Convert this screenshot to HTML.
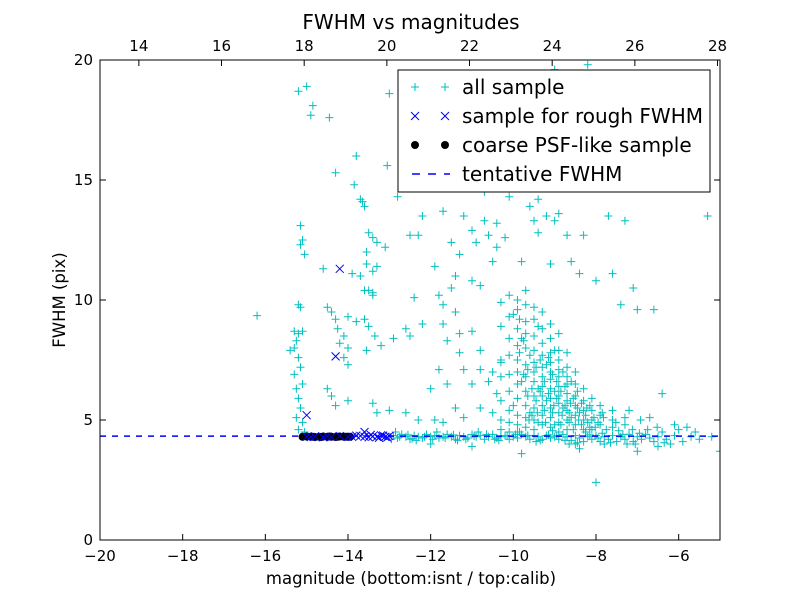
<!DOCTYPE html>
<html><head><meta charset="utf-8"><style>
body{margin:0;background:#fff;}
svg text{font-family:"DejaVu Sans","Liberation Sans",sans-serif;}
</style></head><body>
<svg id="chart" width="800" height="600" xmlns="http://www.w3.org/2000/svg"></svg>
<script>
const xTicks=[-20,-18,-16,-14,-12,-10,-8,-6];
const topTicks=[14,16,18,20,22,24,26,28];
const yTicks=[0,5,10,15,20];
const tentativeFwhm=4.33;
const topOffset=33.06;
const roughMag=[-14.2,-14.3,-15.0,-13.6,-15.0,-14.8,-14.6,-14.4,-14.2,-14.0,-13.8,-13.6,-13.5,-13.4,-13.3,-13.2,-13.1,-13.0,-14.9,-14.5,-13.7,-13.9,-13.45,-13.25,-13.15,-13.05];
const roughFwhm=[11.3,7.65,5.2,4.5,4.3,4.32,4.28,4.3,4.33,4.3,4.35,4.3,4.28,4.32,4.3,4.36,4.3,4.33,4.29,4.31,4.34,4.3,4.38,4.26,4.35,4.27];
const psfMag=[-15.1,-15.0,-14.9,-14.8,-14.7,-14.6,-14.5,-14.4,-14.3,-14.2,-14.1,-14.0,-13.95,-14.85,-14.65,-14.45,-14.25,-14.05];
const psfFwhm=[4.3,4.31,4.3,4.29,4.3,4.31,4.3,4.3,4.29,4.31,4.3,4.3,4.3,4.3,4.29,4.31,4.3,4.3];
const allPts=[[-15.2,18.7],[-15.0,18.9],[-14.85,18.1],[-14.9,17.7],[-14.45,17.6],[-15.15,13.1],[-15.1,12.5],[-15.15,12.3],[-15.05,11.9],[-15.2,9.8],[-15.15,9.7],[-15.3,8.7],[-15.2,8.6],[-15.25,8.3],[-15.1,8.7],[-15.3,8.0],[-15.2,7.6],[-15.15,7.2],[-15.3,6.9],[-15.1,6.5],[-15.25,6.3],[-15.2,5.9],[-15.15,5.5],[-15.25,5.1],[-15.1,4.9],[-15.2,4.6],[-15.05,4.5],[-15.4,7.9],[-16.2,9.35],[-14.6,11.3],
[-14.3,15.3],[-13.8,16.0],[-13.85,14.8],[-13.7,14.2],[-13.6,13.9],[-13.65,14.1],[-13.5,12.8],[-13.4,12.6],[-13.55,12.0],[-13.3,12.4],[-13.55,11.5],[-13.3,11.4],[-13.4,11.2],[-13.7,11.0],[-13.9,11.1],[-13.5,10.4],[-13.4,10.2],[-13.6,10.4],[-13.4,10.3],[-14.0,9.3],[-14.5,9.7],[-14.4,9.5],[-14.3,9.2],[-14.25,8.8],[-14.2,8.2],[-14.0,8.0],[-13.6,9.2],[-13.5,8.9],[-13.35,8.5],[-13.8,9.1],[-14.1,8.5],[-13.55,7.9],[-13.2,8.1],[-12.9,8.4],[-12.6,8.8],[-12.5,8.5],[-12.2,9.0],[-14.1,7.6],[-14.0,7.3],[-14.5,6.3],[-14.4,6.0],[-14.3,5.6],[-14.0,5.8],[-13.4,5.7],[-13.3,5.3],[-13.0,5.4],[-12.6,5.3],[-12.3,5.0],[-13.1,12.2],[-13.0,18.6],[-13.05,15.6],[-12.8,14.3],[-12.4,10.1],[-12.5,12.7],[-12.3,12.7],
[-12.2,13.5],[-11.7,13.7],[-11.2,13.5],[-11.5,12.4],[-11.0,12.9],[-10.9,12.4],[-10.6,12.7],[-10.4,12.2],[-11.3,11.9],[-11.9,11.4],[-11.4,11.0],[-11.8,10.2],[-11.5,10.5],[-11.0,10.8],[-10.8,10.6],[-10.5,11.6],[-11.7,9.8],[-11.4,9.5],[-11.7,9.0],[-11.3,8.6],[-11.0,8.7],[-11.6,8.3],[-11.3,7.8],[-10.8,7.9],[-10.3,7.5],[-11.8,7.1],[-11.2,7.1],[-10.8,7.1],[-10.5,7.0],[-12.0,6.3],[-11.6,6.5],[-11.0,6.5],[-10.6,6.6],[-11.4,5.5],[-11.9,5.0],[-11.7,4.9],[-11.2,5.1],[-10.8,5.5],[-10.5,5.3],[-10.4,6.1],[-10.7,13.3],[-10.4,13.2],[-10.1,14.3],[-10.7,14.5],[-9.6,13.9],[-9.4,14.2],[-9.5,13.3],[-9.2,13.5],[-9.0,13.3],[-8.9,13.6],[-8.7,12.7],[-9.4,12.8],[-10.2,12.6],[-9.8,11.6],[-9.1,11.5],[-8.6,11.6],[-8.3,12.7],[-7.7,13.5],[-7.3,13.3],[-5.3,13.5],[-10.2,14.8],[-8.2,19.8],[-9.0,19.6],[-12.2,19.4],
[-10.3,9.9],[-10.3,8.9],[-10.3,7.4],[-10.3,6.8],[-10.3,5.8],[-10.3,5.0],[-10.3,4.6],
[-10.1,10.2],[-10.1,9.3],[-10.1,8.4],[-10.1,7.7],[-10.1,6.9],[-10.1,6.2],[-10.1,5.4],[-10.1,4.9],[-10.1,4.5],
[-9.9,10.0],[-9.9,9.6],[-9.9,8.8],[-9.9,8.1],[-9.9,7.5],[-9.9,7.0],[-9.9,6.5],[-9.9,5.9],[-9.9,5.2],[-9.9,4.8],[-9.9,4.5],
[-9.7,10.4],[-9.7,9.8],[-9.7,9.1],[-9.7,8.6],[-9.7,8.0],[-9.7,7.3],[-9.7,6.8],[-9.7,6.2],[-9.7,5.6],[-9.7,5.1],[-9.7,4.7],
[-9.5,9.7],[-9.5,9.2],[-9.5,8.5],[-9.5,7.9],[-9.5,7.4],[-9.5,7.0],[-9.5,6.6],[-9.5,6.0],[-9.5,5.5],[-9.5,5.0],[-9.5,4.6],
[-9.3,9.5],[-9.3,8.8],[-9.3,8.2],[-9.3,7.7],[-9.3,7.2],[-9.3,6.8],[-9.3,6.4],[-9.3,6.0],[-9.3,5.6],[-9.3,5.2],[-9.3,4.8],
[-9.1,9.0],[-9.1,8.4],[-9.1,7.8],[-9.1,7.4],[-9.1,7.0],[-9.1,6.7],[-9.1,6.3],[-9.1,5.9],[-9.1,5.5],[-9.1,5.1],[-9.1,4.7],
[-8.9,8.6],[-8.9,7.9],[-8.9,7.5],[-8.9,7.1],[-8.9,6.8],[-8.9,6.4],[-8.9,6.0],[-8.9,5.7],[-8.9,5.3],[-8.9,4.9],[-8.9,4.5],
[-8.7,7.8],[-8.7,7.2],[-8.7,6.8],[-8.7,6.5],[-8.7,6.1],[-8.7,5.8],[-8.7,5.4],[-8.7,5.0],[-8.7,4.6],
[-8.5,7.0],[-8.5,6.5],[-8.5,6.0],[-8.5,5.6],[-8.5,5.2],[-8.5,4.8],[-8.5,4.0],
[-8.3,6.3],[-8.3,5.8],[-8.3,5.4],[-8.3,5.0],[-8.3,4.6],[-8.1,5.9],[-8.1,5.4],[-8.1,5.0],[-8.1,4.6],[-7.9,5.6],[-7.9,5.2],[-7.9,4.8],[-7.6,5.4],[-7.6,5.0],[-7.6,4.7],[-7.3,5.1],[-7.3,4.8],
[-10.0,9.4],[-9.8,8.4],[-9.6,7.7],[-9.4,6.3],[-9.2,5.8],[-9.0,6.2],[-8.8,5.5],[-8.6,5.1],[-9.6,5.3],[-9.2,7.3],[-9.0,7.9],[-8.8,7.0],[-9.4,8.9],[-9.8,6.6],[-10.0,5.6],[-9.4,4.9],[-9.0,4.8],[-8.6,6.6],[-8.4,5.3],[-8.2,4.9],
[-9.85,9.2],[-9.75,8.3],[-9.65,7.1],[-9.55,6.3],[-9.45,5.8],[-9.35,7.5],[-9.25,6.6],[-9.15,6.1],[-9.05,5.3],[-8.95,6.6],[-8.85,6.2],[-8.75,5.6],[-8.65,5.3],[-8.55,5.9],[-8.45,5.5],[-8.35,4.8],[-8.25,5.2],[-8.15,4.7],[-8.05,5.1],[-7.95,4.9],
[-9.85,7.8],[-9.75,6.9],[-9.65,6.0],[-9.55,5.2],[-9.45,7.2],[-9.35,6.2],[-9.25,5.4],[-9.15,7.6],[-9.05,6.9],[-8.95,5.9],[-8.85,4.8],[-8.75,6.4],[-8.65,4.9],[-8.55,4.6],[-8.45,6.2],[-8.35,5.7],[-8.25,4.5],[-8.15,5.6],[-7.85,5.3],[-7.75,4.6],
[-9.62,5.0],[-9.42,5.3],[-9.22,4.9],[-9.02,5.6],[-8.82,5.2],[-8.62,5.7],[-8.42,5.0],[-8.22,5.5],[-8.02,4.7],[-7.82,5.1],[-7.52,4.9],[-7.12,4.6],[-6.92,5.0],[-6.52,4.7],
[-7.1,10.5],[-7.4,9.8],[-7.0,9.6],[-6.6,9.6],[-7.6,11.1],[-8.0,10.8],[-8.4,11.1],[-6.4,6.1],[-6.7,5.1],[-7.2,5.4],[-6.1,4.8],[-5.8,4.7],
[-9.8,3.6],[-8.0,2.4],[-7.0,3.7],[-5.0,3.7],[-8.4,3.8],[-6.5,3.9],[-11.0,3.9],[-12.0,4.0],[-7.8,4.0],[-6.2,4.0],
[-13.0,4.3],[-12.9,4.35],[-12.8,4.25],[-12.7,4.4],[-12.6,4.3],[-12.5,4.2],[-12.4,4.35],[-12.3,4.3],[-12.2,4.25],[-12.1,4.4],[-12.0,4.3],[-11.9,4.35],[-11.8,4.25],[-11.7,4.3],[-11.6,4.4],[-11.5,4.3],[-11.4,4.2],[-11.3,4.35],[-11.2,4.3],[-11.1,4.25],[-11.0,4.4],[-10.9,4.3],[-10.8,4.35],[-10.7,4.2],[-10.6,4.3],[-10.5,4.4],[-10.4,4.25],[-10.3,4.3],[-10.2,4.35],[-10.1,4.2],[-10.0,4.3],[-9.9,4.25],[-9.8,4.4],[-9.7,4.3],[-9.6,4.2],[-9.5,4.35],[-9.4,4.3],[-9.3,4.2],[-9.2,4.35],[-9.1,4.25],[-9.0,4.3],[-8.9,4.2],[-8.8,4.4],[-8.7,4.3],[-8.6,4.15],[-8.5,4.35],[-8.4,4.25],[-8.3,4.1],[-8.2,4.3],[-8.1,4.2],[-8.0,4.35],[-7.9,4.1],[-7.8,4.3],[-7.7,4.2],[-7.6,4.35],[-7.5,4.1],[-7.4,4.3],[-7.3,4.2],[-7.2,4.4],[-7.1,4.1],[-7.0,4.3],[-6.9,4.2],[-6.8,4.4],[-6.6,4.1],[-6.5,4.3],[-6.3,4.2],[-6.1,4.35],[-5.9,4.1],[-5.7,4.3],[-5.5,4.2],[-5.2,4.3],
[-12.95,4.2],[-12.75,4.3],[-12.55,4.38],[-12.45,4.22],[-12.15,4.3],[-11.95,4.2],[-11.65,4.25],[-11.45,4.38],[-11.15,4.2],[-10.95,4.33],[-10.65,4.4],[-10.45,4.2],[-10.15,4.33],[-9.95,4.4],[-9.65,4.36],[-9.35,4.15],[-9.15,4.38],[-8.95,4.35],[-8.75,4.15],[-8.45,4.05],[-8.15,4.38],[-7.95,4.25],[-7.65,4.05],[-7.35,4.4],[-7.25,4.0],[-6.95,4.45],[-6.7,4.25],[-6.35,4.05],
[-12.85,4.5],[-12.35,4.15],[-11.85,4.5],[-11.35,4.15],[-10.85,4.5],[-10.35,4.15],[-9.85,4.5],[-9.45,4.1],[-9.05,4.55],[-8.65,4.0],[-8.25,4.5],[-7.85,4.45],[-7.45,4.55],[-7.05,4.0],[-6.75,4.6],[-6.4,4.5],[-6.0,4.6],[-5.6,4.5]];

const svg=document.getElementById('chart');
const NS='http://www.w3.org/2000/svg';
const L=100,R=720,T=60,B=540;
const xs=v=>L+(v+20)/15*(R-L);
const ys=v=>B-v/20*(B-T);
function mk(tag,attrs,parent){const e=document.createElementNS(NS,tag);for(const k in attrs)e.setAttribute(k,attrs[k]);(parent||svg).appendChild(e);return e;}

const marks=mk('g',{});


const clip=mk('clipPath',{id:'cp'});mk('rect',{x:L,y:T,width:R-L,height:B-T},clip);
marks.setAttribute('clip-path','url(#cp)');

allPts.forEach(p=>{
  const x=xs(p[0]),y=ys(p[1]);
  const g=mk('path',{d:`M${x-4} ${y}H${x+4}M${x} ${y-4}V${y+4}`,stroke:'#00bfbf','stroke-width':1,fill:'none'},marks);
  
  
});
const tl=mk('line',{x1:L,x2:R,y1:ys(tentativeFwhm),y2:ys(tentativeFwhm),stroke:'#0000ff','stroke-width':1.5,'stroke-dasharray':'6,6'},marks);


psfMag.forEach((m,i)=>{
  const c=mk('circle',{cx:xs(m),cy:ys(psfFwhm[i]),r:4,fill:'#000'},marks);
  
  
});
roughMag.forEach((m,i)=>{
  const x=xs(m),y=ys(roughFwhm[i]);
  const g=mk('path',{d:`M${x-4} ${y-4}L${x+4} ${y+4}M${x-4} ${y+4}L${x+4} ${y-4}`,stroke:'#0000ff','stroke-width':1,fill:'none'},marks);
  
  
});

const frame=mk('rect',{x:L,y:T,width:R-L,height:B-T,fill:'none',stroke:'#000','stroke-width':1});



xTicks.forEach(t=>{
  const x=xs(t);
  mk('line',{x1:x,x2:x,y1:B,y2:B-6,stroke:'#000'});
  const tx=mk('text',{x:x,y:B+21,'font-size':15,'text-anchor':'middle'});
  tx.textContent=t<0?'\u2212'+Math.abs(t):t;
  
  
});
topTicks.forEach(t=>{
  const x=xs(t-topOffset);
  mk('line',{x1:x,x2:x,y1:T,y2:T+6,stroke:'#000'});
  const tx=mk('text',{x:x,y:T-9,'font-size':15,'text-anchor':'middle'});
  tx.textContent=t;
  
  
});
yTicks.forEach(t=>{
  const y=ys(t);
  mk('line',{x1:L,x2:L+6,y1:y,y2:y,stroke:'#000'});
  mk('line',{x1:R,x2:R-6,y1:y,y2:y,stroke:'#000'});
  const tx=mk('text',{x:L-7,y:y+5,'font-size':15,'text-anchor':'end'});
  tx.textContent=t;
  
  
});

const title=mk('text',{x:411,y:29,'font-size':20,'text-anchor':'middle'});
title.textContent='FWHM vs magnitudes';


const xl=mk('text',{x:411,y:584,'font-size':16.5,'text-anchor':'middle'});
xl.textContent='magnitude (bottom:isnt / top:calib)';


const yl=mk('text',{x:65,y:300,'font-size':16.5,'text-anchor':'middle',transform:'rotate(-90 65 300)'});
yl.textContent='FWHM (pix)';



const lg=mk('g',{});


mk('rect',{x:398,y:70,width:312,height:122,fill:'#fff',stroke:'#000','stroke-width':1},lg);
const labels=['all sample','sample for rough FWHM','coarse PSF-like sample','tentative FWHM'];
labels.forEach((s,i)=>{
  const y=87+i*29;
  if(i===0){[415,445].forEach(x=>mk('path',{d:`M${x-4} ${y}H${x+4}M${x} ${y-4}V${y+4}`,stroke:'#00bfbf',fill:'none'},lg));}
  if(i===1){[415,445].forEach(x=>mk('path',{d:`M${x-4} ${y-4}L${x+4} ${y+4}M${x-4} ${y+4}L${x+4} ${y-4}`,stroke:'#0000ff',fill:'none'},lg));}
  if(i===2){[415,445].forEach(x=>mk('circle',{cx:x,cy:y,r:4,fill:'#000'},lg));}
  if(i===3){mk('line',{x1:412,x2:450,y1:y,y2:y,stroke:'#0000ff','stroke-width':1.5,'stroke-dasharray':'8,8'},lg);}
  const t=mk('text',{x:462,y:y+7,'font-size':20,textLength:(i===1?241:null)},lg);
  if(i!==1)t.removeAttribute('textLength');
  t.textContent=s;
  
  
});
</script>
</body></html>
